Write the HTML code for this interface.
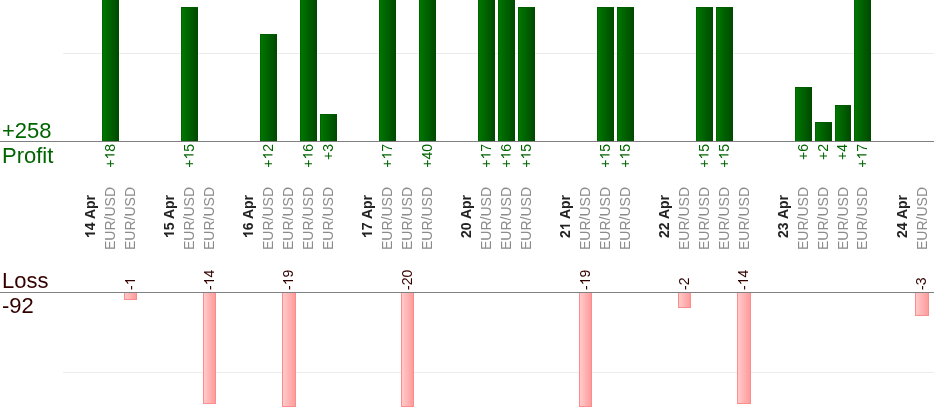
<!DOCTYPE html>
<html><head><meta charset="utf-8"><title>chart</title>
<style>
html,body{margin:0;padding:0;background:#fff;}
body{width:934px;height:420px;position:relative;overflow:hidden;font-family:"Liberation Sans",sans-serif;}
.ax{position:absolute;left:0;width:934px;height:1px;background:#808080;}
.gr{position:absolute;left:63px;width:871px;height:1px;background:#ececec;}
.pb{position:absolute;width:17px;box-sizing:border-box;border:1px solid #005a00;border-left-color:#006400;border-right-color:#004a00;background:linear-gradient(to right,#007600 0%,#006100 50%,#004b00 100%);}
.lb{position:absolute;width:13px;box-sizing:border-box;border:1px solid #ff8c8c;border-top:none;background:linear-gradient(to right,#ffcaca 0%,#ff9c9c 100%);}
.big{position:absolute;left:2px;font-size:22px;line-height:24px;white-space:nowrap;}
.g{color:#006400;}
.m{color:#330000;}
.v{position:absolute;white-space:nowrap;transform-origin:0 0;transform:rotate(-90deg);line-height:16px;height:16px;}
.o,.ob{display:inline-block;width:.556em;height:.72em;background:currentColor;}
.o{clip-path:polygon(67.0% 100.0%,51.2% 100.0%,51.2% 22.2%,47.0% 25.0%,42.0% 27.8%,36.2% 30.6%,30.3% 33.2%,24.7% 35.3%,19.6% 36.9%,19.6% 25.2%,28.0% 21.7%,35.8% 17.8%,42.8% 13.5%,48.7% 9.0%,53.4% 4.5%,56.8% 0.2%,67.0% 0.2%);}
.ob{clip-path:polygon(70.8% 100.0%,46.1% 100.0%,46.1% 28.2%,39.0% 32.8%,31.4% 36.7%,23.1% 40.0%,14.2% 42.6%,14.2% 25.4%,20.8% 23.2%,27.8% 20.2%,35.2% 16.1%,42.0% 11.3%,47.1% 6.0%,50.7% 0.2%,70.8% 0.2%);}
.h{position:relative;top:.07em;}
.a{position:absolute;width:0;height:0;}
.vr{position:absolute;right:0;top:0;white-space:nowrap;transform-origin:100% 0;transform:rotate(-90deg);line-height:16px;height:16px;}
.pl{font-size:14px;color:#006400;}
.ll{font-size:14px;color:#330000;}
.sy{font-size:14px;color:#8b8b8b;}
.dt{font-size:14px;color:#222;font-weight:bold;}
#w{position:absolute;left:0;top:0;width:934px;height:420px;will-change:transform;background:#fff;}
</style></head><body><div id="w">

<div class="gr" style="top:53px"></div>
<div class="gr" style="top:372px"></div>
<div class="pb" style="left:102px;top:-2px;height:144px;width:17px"></div>
<div class="pb" style="left:181px;top:7px;height:135px;width:17px"></div>
<div class="pb" style="left:260px;top:34px;height:108px;width:17px"></div>
<div class="pb" style="left:300px;top:-2px;height:144px;width:17px"></div>
<div class="pb" style="left:320px;top:114px;height:28px;width:17px"></div>
<div class="pb" style="left:379px;top:-2px;height:144px;width:17px"></div>
<div class="pb" style="left:419px;top:-2px;height:144px;width:17px"></div>
<div class="pb" style="left:478px;top:-2px;height:144px;width:17px"></div>
<div class="pb" style="left:498px;top:-2px;height:144px;width:17px"></div>
<div class="pb" style="left:518px;top:7px;height:135px;width:17px"></div>
<div class="pb" style="left:597px;top:7px;height:135px;width:17px"></div>
<div class="pb" style="left:617px;top:7px;height:135px;width:17px"></div>
<div class="pb" style="left:696px;top:7px;height:135px;width:17px"></div>
<div class="pb" style="left:716px;top:7px;height:135px;width:17px"></div>
<div class="pb" style="left:795px;top:87px;height:55px;width:17px"></div>
<div class="pb" style="left:815px;top:122px;height:20px;width:17px"></div>
<div class="pb" style="left:835px;top:105px;height:37px;width:16px"></div>
<div class="pb" style="left:854px;top:-2px;height:144px;width:17px"></div>
<div class="lb" style="left:124px;top:293px;height:7px;width:13px"></div>
<div class="lb" style="left:203px;top:293px;height:111px;width:13px"></div>
<div class="lb" style="left:282px;top:293px;height:114px;width:14px"></div>
<div class="lb" style="left:401px;top:293px;height:114px;width:13px"></div>
<div class="lb" style="left:579px;top:293px;height:114px;width:13px"></div>
<div class="lb" style="left:678px;top:293px;height:15px;width:13px"></div>
<div class="lb" style="left:737px;top:293px;height:111px;width:14px"></div>
<div class="lb" style="left:915px;top:293px;height:23px;width:14px"></div>
<div class="ax" style="top:141px"></div>
<div class="ax" style="top:292px"></div>
<div class="big g" style="top:118.5px">+258</div>
<div class="big g" style="top:143.5px">Profit</div>
<div class="big m" style="top:268.5px">Loss</div>
<div class="big m" style="top:294px">-92</div>
<div class="a" style="left:101.5px;top:144.3px"><div class="vr pl">+<i class="o"></i>8</div></div>
<div class="a" style="left:180.5px;top:144.3px"><div class="vr pl">+<i class="o"></i>5</div></div>
<div class="a" style="left:259.5px;top:144.3px"><div class="vr pl">+<i class="o"></i>2</div></div>
<div class="a" style="left:299.5px;top:144.3px"><div class="vr pl">+<i class="o"></i>6</div></div>
<div class="a" style="left:319.5px;top:144.3px"><div class="vr pl">+3</div></div>
<div class="a" style="left:378.5px;top:144.3px"><div class="vr pl">+<i class="o"></i>7</div></div>
<div class="a" style="left:418.5px;top:144.3px"><div class="vr pl">+40</div></div>
<div class="a" style="left:477.5px;top:144.3px"><div class="vr pl">+<i class="o"></i>7</div></div>
<div class="a" style="left:497.5px;top:144.3px"><div class="vr pl">+<i class="o"></i>6</div></div>
<div class="a" style="left:517.5px;top:144.3px"><div class="vr pl">+<i class="o"></i>5</div></div>
<div class="a" style="left:596.5px;top:144.3px"><div class="vr pl">+<i class="o"></i>5</div></div>
<div class="a" style="left:616.5px;top:144.3px"><div class="vr pl">+<i class="o"></i>5</div></div>
<div class="a" style="left:695.5px;top:144.3px"><div class="vr pl">+<i class="o"></i>5</div></div>
<div class="a" style="left:715.5px;top:144.3px"><div class="vr pl">+<i class="o"></i>5</div></div>
<div class="a" style="left:794.5px;top:144.3px"><div class="vr pl">+6</div></div>
<div class="a" style="left:814.5px;top:144.3px"><div class="vr pl">+2</div></div>
<div class="a" style="left:834.0px;top:144.3px"><div class="vr pl">+4</div></div>
<div class="a" style="left:853.5px;top:144.3px"><div class="vr pl">+<i class="o"></i>7</div></div>
<div class="v ll" style="left:121.5px;top:290px"><span class="h">-</span><i class="o"></i></div>
<div class="v ll" style="left:200.5px;top:290px"><span class="h">-</span><i class="o"></i>4</div>
<div class="v ll" style="left:280.0px;top:290px"><span class="h">-</span><i class="o"></i>9</div>
<div class="v ll" style="left:398.5px;top:290px"><span class="h">-</span>20</div>
<div class="v ll" style="left:576.5px;top:290px"><span class="h">-</span><i class="o"></i>9</div>
<div class="v ll" style="left:675.5px;top:290px"><span class="h">-</span>2</div>
<div class="v ll" style="left:735.0px;top:290px"><span class="h">-</span><i class="o"></i>4</div>
<div class="v ll" style="left:913.0px;top:290px"><span class="h">-</span>3</div>
<div class="v sy" style="left:101.9px;top:249.8px">EUR/USD</div>
<div class="v sy" style="left:121.7px;top:249.8px">EUR/USD</div>
<div class="v sy" style="left:181.1px;top:249.8px">EUR/USD</div>
<div class="v sy" style="left:200.9px;top:249.8px">EUR/USD</div>
<div class="v sy" style="left:260.3px;top:249.8px">EUR/USD</div>
<div class="v sy" style="left:280.1px;top:249.8px">EUR/USD</div>
<div class="v sy" style="left:299.9px;top:249.8px">EUR/USD</div>
<div class="v sy" style="left:319.7px;top:249.8px">EUR/USD</div>
<div class="v sy" style="left:379.1px;top:249.8px">EUR/USD</div>
<div class="v sy" style="left:398.9px;top:249.8px">EUR/USD</div>
<div class="v sy" style="left:418.7px;top:249.8px">EUR/USD</div>
<div class="v sy" style="left:478.1px;top:249.8px">EUR/USD</div>
<div class="v sy" style="left:497.9px;top:249.8px">EUR/USD</div>
<div class="v sy" style="left:517.7px;top:249.8px">EUR/USD</div>
<div class="v sy" style="left:577.1px;top:249.8px">EUR/USD</div>
<div class="v sy" style="left:596.9px;top:249.8px">EUR/USD</div>
<div class="v sy" style="left:616.7px;top:249.8px">EUR/USD</div>
<div class="v sy" style="left:676.1px;top:249.8px">EUR/USD</div>
<div class="v sy" style="left:695.9px;top:249.8px">EUR/USD</div>
<div class="v sy" style="left:715.7px;top:249.8px">EUR/USD</div>
<div class="v sy" style="left:735.5px;top:249.8px">EUR/USD</div>
<div class="v sy" style="left:794.9px;top:249.8px">EUR/USD</div>
<div class="v sy" style="left:814.7px;top:249.8px">EUR/USD</div>
<div class="v sy" style="left:834.5px;top:249.8px">EUR/USD</div>
<div class="v sy" style="left:854.3px;top:249.8px">EUR/USD</div>
<div class="v sy" style="left:913.7px;top:249.8px">EUR/USD</div>
<div class="v dt" style="left:81.7px;top:238.3px"><i class="ob"></i>4 Apr</div>
<div class="v dt" style="left:160.9px;top:238.3px"><i class="ob"></i>5 Apr</div>
<div class="v dt" style="left:240.1px;top:238.3px"><i class="ob"></i>6 Apr</div>
<div class="v dt" style="left:358.9px;top:238.3px"><i class="ob"></i>7 Apr</div>
<div class="v dt" style="left:457.9px;top:238.3px">20 Apr</div>
<div class="v dt" style="left:556.9px;top:238.3px">2<i class="ob"></i> Apr</div>
<div class="v dt" style="left:655.9px;top:238.3px">22 Apr</div>
<div class="v dt" style="left:774.7px;top:238.3px">23 Apr</div>
<div class="v dt" style="left:893.5px;top:238.3px">24 Apr</div>
</div></body></html>
